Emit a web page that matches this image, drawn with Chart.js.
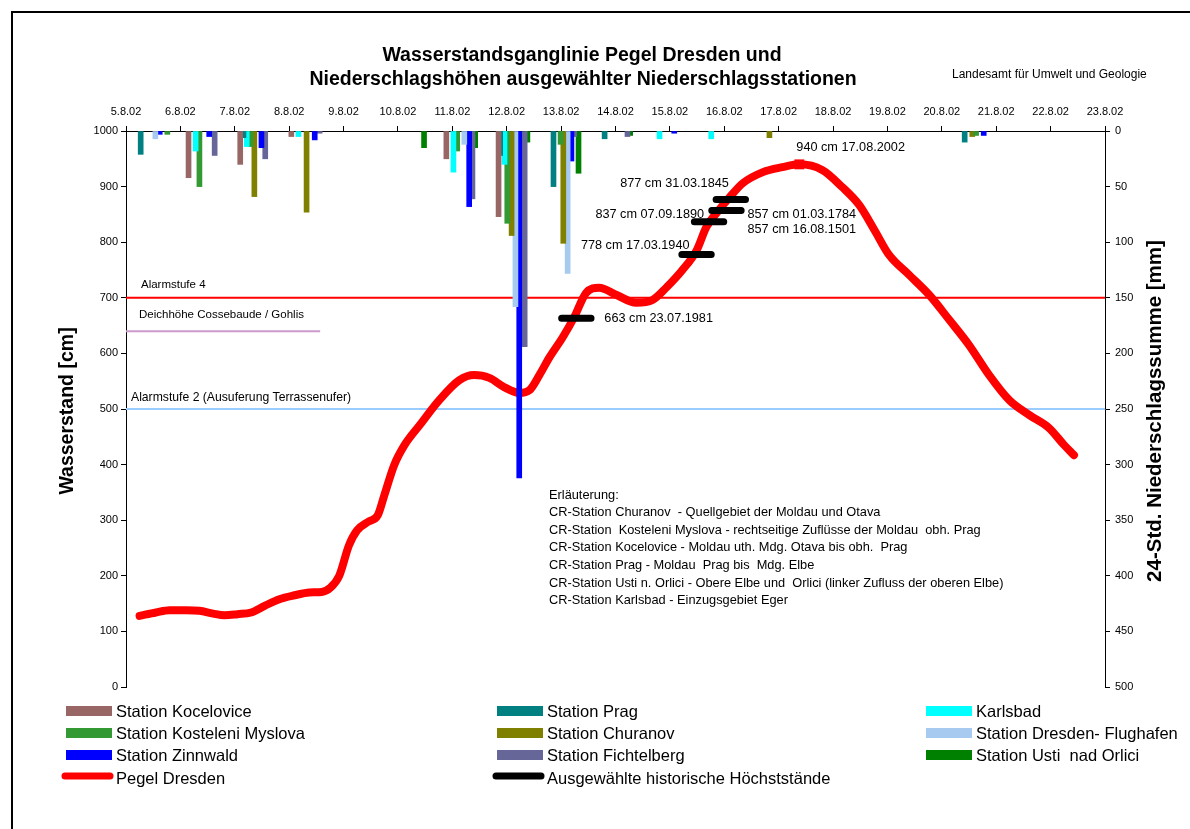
<!DOCTYPE html>
<html lang="de">
<head>
<meta charset="utf-8">
<title>Wasserstandsganglinie Pegel Dresden</title>
<script src="https://cdn.jsdelivr.net/npm/chart.js@4/dist/chart.umd.min.js"></script>
<style>
  html, body { margin: 0; padding: 0; background: #fff; }
  #wrap { position: relative; width: 1190px; height: 829px; }
</style>
</head>
<body>
<div id="wrap"><canvas id="c" width="1190" height="829"></canvas></div>
<script>
// Zeitachse: Tag 0 = 5.8.02, 0 Uhr
const dayLabels = ['5.8.02', '6.8.02', '7.8.02', '8.8.02', '9.8.02', '10.8.02', '11.8.02',
  '12.8.02', '13.8.02', '14.8.02', '15.8.02', '16.8.02', '17.8.02', '18.8.02', '19.8.02',
  '20.8.02', '21.8.02', '22.8.02', '23.8.02'];

// Pegel Dresden: Zeitpunkt (Tage) und Wasserstand [cm]
const pegelDay = [0.25, 0.55, 0.80, 1.10, 1.35, 1.60, 1.81, 2.05, 2.30, 2.55, 2.82, 3.10, 3.37,
  3.60, 3.75, 3.92, 4.10, 4.25, 4.45, 4.63, 4.75, 4.93, 5.12, 5.40, 5.76, 6.13, 6.40, 6.68,
  6.96, 7.23, 7.42, 7.60, 7.78, 8.03, 8.24, 8.46, 8.70, 9.02, 9.38, 9.68, 9.94, 10.23, 10.49,
  10.67, 10.87, 11.10, 11.34, 11.71, 12.07, 12.38, 12.80, 13.17, 13.48, 13.76, 14.03, 14.40,
  14.77, 15.14, 15.50, 15.87, 16.24, 16.61, 16.97, 17.25, 17.43];
const pegelCm = [128, 134, 138, 138, 137, 132, 129, 131, 134, 146, 158, 165, 170,
  171, 178, 200, 255, 282, 297, 309, 345, 399, 435, 471, 516, 552, 561, 556,
  539, 529, 534, 561, 592, 629, 665, 709, 718, 705, 691, 696, 719, 750, 785,
  827, 854, 881, 906, 926, 935, 940, 930, 899, 867, 822, 777, 741,
  705, 660, 615, 561, 516, 489, 466, 435, 417];

// Scheitel 2002
const peakDay = 12.38;
const peakCm = 940;
const peakDate = '17.08.2002';

// Ausgewählte historische Höchststände
const histDay = [8.28, 10.49, 10.72, 11.04, 11.04, 11.12];
const histCm = [663, 778, 837, 857, 857, 877];
const histDate = ['23.07.1981', '17.03.1940', '07.09.1890', '01.03.1784', '16.08.1501', '31.03.1845'];

// Kennmarken [cm]
const alarm4Cm = 700;
const deichCm = 640;
const alarm2Cm = 500;

// 24-Std.-Niederschlagssummen [mm] je Station
const kocelDay = [1.15, 2.10, 3.04, 5.89, 6.85];
const kocelMm = [42, 30, 5, 25, 77];
const pragDay = [0.27, 2.16, 6.88, 7.86, 8.80, 15.42];
const pragMm = [21, 6, 22, 50, 7, 10];
const karlsDay = [1.28, 2.22, 3.17, 6.02, 6.96, 9.81, 10.76];
const karlsMm = [18, 14, 5, 37, 30, 7, 7];
const kostDay = [0.76, 1.35, 2.29, 6.09, 7.01, 7.99, 15.63];
const kostMm = [3, 50, 14, 18, 83, 12, 4];
const churDay = [2.36, 3.32, 7.09, 8.04, 11.83, 15.56];
const churMm = [59, 73, 94, 101, 6, 5];
const dresDay = [0.54, 6.22, 7.16, 8.12];
const dresMm = [7, 12, 158, 128];
const zinnDay = [0.62, 1.53, 2.49, 3.47, 6.31, 7.23, 8.19, 10.08, 15.77];
const zinnMm = [3, 5, 15, 8, 68, 312, 27, 2, 4];
const fichDay = [1.63, 2.56, 3.56, 6.37, 7.33, 8.24, 9.22];
const fichMm = [22, 25, 2, 61, 194, 5, 5];
const ustiDay = [5.48, 6.42, 7.38, 8.32, 9.27];
const ustiMm = [15, 15, 10, 38, 4];

const zip = (xs, ys) => xs.map((x, i) => ({ x: x, y: ys[i] }));

const FONT = '"Liberation Sans", Arial, sans-serif';
const HALF_MARK = 0.27; // halbe Länge der historischen Marken in Tagen

// Historische Marken als unterbrochene Linie
const histData = [];
histDay.forEach((d, i) => {
  histData.push({ x: d - HALF_MARK, y: histCm[i] });
  histData.push({ x: d + HALF_MARK, y: histCm[i] });
  histData.push({ x: d + HALF_MARK, y: null });
});

const stations = [
  { label: 'Station Kocelovice', color: '#996666', day: kocelDay, mm: kocelMm },
  { label: 'Station Prag', color: '#008080', day: pragDay, mm: pragMm },
  { label: 'Karlsbad', color: '#00FFFF', day: karlsDay, mm: karlsMm },
  { label: 'Station Kosteleni Myslova', color: '#339933', day: kostDay, mm: kostMm },
  { label: 'Station Churanov', color: '#808000', day: churDay, mm: churMm },
  { label: 'Station Dresden- Flughafen', color: '#A6CAF0', day: dresDay, mm: dresMm },
  { label: 'Station Zinnwald', color: '#0000FF', day: zinnDay, mm: zinnMm },
  { label: 'Station Fichtelberg', color: '#666699', day: fichDay, mm: fichMm },
  { label: 'Station Usti  nad Orlici', color: '#008000', day: ustiDay, mm: ustiMm }
];

const barSets = stations.map(s => ({
  type: 'bar',
  label: s.label,
  data: zip(s.day, s.mm),
  xAxisID: 'x',
  yAxisID: 'y2',
  backgroundColor: s.color,
  borderWidth: 0,
  barThickness: 5,
  grouped: false,
  order: 0
}));

const refLine = (label, y, x0, x1, color) => ({
  type: 'line',
  label: label,
  data: [{ x: x0, y: y }, { x: x1, y: y }],
  xAxisID: 'x', yAxisID: 'y',
  borderColor: color, borderWidth: 2,
  pointRadius: 0, order: 4
});

const datasets = [
  ...barSets,
  refLine('Alarmstufe 4', alarm4Cm, 0, 18, '#FF0000'),
  refLine('Deichhöhe Cossebaude / Gohlis', deichCm, 0, 3.57, '#CC99CC'),
  refLine('Alarmstufe 2', alarm2Cm, 0, 18, '#99CCFF'),
  {
    type: 'line',
    label: 'Pegel Dresden',
    data: zip(pegelDay, pegelCm),
    xAxisID: 'x', yAxisID: 'y',
    borderColor: '#FF0000', borderWidth: 8,
    borderCapStyle: 'round', borderJoinStyle: 'round',
    cubicInterpolationMode: 'monotone',
    pointRadius: 0, order: 3
  },
  {
    type: 'line',
    label: 'Scheitel',
    data: [{ x: peakDay, y: peakCm }],
    xAxisID: 'x', yAxisID: 'y',
    showLine: false,
    pointStyle: 'rect', pointRadius: 7,
    backgroundColor: '#FF0000', borderColor: '#FF0000', borderWidth: 0,
    order: 2
  },
  {
    type: 'line',
    label: 'Ausgewählte historische Höchststände',
    data: histData,
    xAxisID: 'x', yAxisID: 'y',
    borderColor: '#000000', borderWidth: 7,
    borderCapStyle: 'round',
    spanGaps: false,
    pointRadius: 0, order: 1
  }
];

// Beschriftung der historischen Marken (Versatz in Pixel)
const histLabelPos = [
  { dx: 28, dy: 0, align: 'left' },
  { dx: -7, dy: -9, align: 'right' },
  { dx: -5, dy: -7, align: 'right' },
  { dx: 21, dy: 4, align: 'left' },
  { dx: 21, dy: 19, align: 'left' },
  { dx: -2, dy: -16, align: 'right' }
];

const explanation = [
  'Erläuterung:',
  'CR-Station Churanov  - Quellgebiet der Moldau und Otava',
  'CR-Station  Kosteleni Myslova - rechtseitige Zuflüsse der Moldau  obh. Prag',
  'CR-Station Kocelovice - Moldau uth. Mdg. Otava bis obh.  Prag',
  'CR-Station Prag - Moldau  Prag bis  Mdg. Elbe',
  'CR-Station Usti n. Orlici - Obere Elbe und  Orlici (linker Zufluss der oberen Elbe)',
  'CR-Station Karlsbad - Einzugsgebiet Eger'
];

const decor = {
  id: 'decor',
  afterDraw(chart) {
    const ctx = chart.ctx;
    const sx = chart.scales.x, sy = chart.scales.y;
    const area = chart.chartArea;
    ctx.save();

    // Rahmen
    ctx.strokeStyle = '#000';
    ctx.lineWidth = 2;
    ctx.beginPath();
    ctx.moveTo(12, 829); ctx.lineTo(12, 12); ctx.lineTo(1190, 12);
    ctx.stroke();

    // Titel
    ctx.fillStyle = '#000';
    ctx.textBaseline = 'middle';
    ctx.textAlign = 'center';
    ctx.font = 'bold 19.5px ' + FONT;
    ctx.fillText('Wasserstandsganglinie Pegel Dresden und', 582, 56);
    ctx.fillText('Niederschlagshöhen ausgewählter Niederschlagsstationen', 583, 80);
    ctx.font = '12px ' + FONT;
    ctx.textAlign = 'left';
    ctx.fillText('Landesamt für Umwelt und Geologie', 952, 75);

    // Achsentitel
    ctx.textAlign = 'center';
    ctx.font = 'bold 19.5px ' + FONT;
    ctx.save();
    ctx.translate(68, (area.top + area.bottom) / 2 + 2);
    ctx.rotate(-Math.PI / 2);
    ctx.fillText('Wasserstand [cm]', 0, 0);
    ctx.restore();
    ctx.font = 'bold 20.5px ' + FONT;
    ctx.save();
    ctx.translate(1155, (area.top + area.bottom) / 2 + 2);
    ctx.rotate(-Math.PI / 2);
    ctx.fillText('24-Std. Niederschlagssumme [mm]', 0, 0);
    ctx.restore();

    // Kennmarken
    ctx.textAlign = 'left';
    ctx.font = '11.5px ' + FONT;
    ctx.fillText('Alarmstufe 4', area.left + 15, sy.getPixelForValue(alarm4Cm) - 13);
    ctx.fillText('Deichhöhe Cossebaude / Gohlis', area.left + 13, sy.getPixelForValue(deichCm) - 16);
    ctx.font = '12.2px ' + FONT;
    ctx.fillText('Alarmstufe 2 (Ausuferung Terrassenufer)', area.left + 5, sy.getPixelForValue(alarm2Cm) - 11);

    // Historische Höchststände
    ctx.font = '12.7px ' + FONT;
    histDay.forEach((d, i) => {
      const p = histLabelPos[i];
      ctx.textAlign = p.align;
      ctx.fillText(histCm[i] + ' cm ' + histDate[i],
        sx.getPixelForValue(d) + p.dx, sy.getPixelForValue(histCm[i]) + p.dy);
    });
    ctx.textAlign = 'left';
    ctx.fillText(peakCm + ' cm ' + peakDate,
      sx.getPixelForValue(peakDay) - 3, sy.getPixelForValue(peakCm) - 17);

    // Erläuterung
    ctx.font = '12.8px ' + FONT;
    explanation.forEach((t, i) => ctx.fillText(t, 549, 495 + i * 17.6));

    // Legende
    ctx.font = '16.5px ' + FONT;
    const cols = [66, 497, 926];
    const rows = [711, 733, 755];
    stations.forEach((s, i) => {
      const cx = cols[i % 3], cy = rows[Math.floor(i / 3)];
      ctx.fillStyle = s.color;
      ctx.fillRect(cx, cy - 5, 46, 10);
      ctx.fillStyle = '#000';
      ctx.fillText(s.label, cx + 50, cy + 1);
    });
    const lineKey = (cx, color, text) => {
      ctx.strokeStyle = color;
      ctx.lineWidth = 7;
      ctx.lineCap = 'round';
      ctx.beginPath();
      ctx.moveTo(cx - 1, 776); ctx.lineTo(cx + 44, 776);
      ctx.stroke();
      ctx.fillStyle = '#000';
      ctx.fillText(text, cx + 50, 779);
    };
    lineKey(cols[0], '#FF0000', 'Pegel Dresden');
    lineKey(cols[1], '#000000', 'Ausgewählte historische Höchststände');

    ctx.restore();
  }
};

const axisGrid = { drawOnChartArea: false, drawTicks: true, tickLength: 5, color: '#000', lineWidth: 1, offset: false };
const axisBorder = { display: true, color: '#000', width: 1 };
const tickFont = { family: FONT, size: 11 };

new Chart(document.getElementById('c'), {
  type: 'bar',
  data: { datasets: datasets },
  plugins: [decor],
  options: {
    responsive: false,
    devicePixelRatio: 1,
    animation: false,
    events: [],
    layout: { padding: { left: 0, right: 0, top: 0, bottom: 142 } },
    plugins: { legend: { display: false }, tooltip: { enabled: false }, title: { display: false } },
    scales: {
      x: {
        type: 'linear', position: 'top', min: 0, max: 18, offset: false,
        grid: axisGrid, border: axisBorder,
        ticks: {
          stepSize: 1, autoSkip: false, maxRotation: 0, padding: 7,
          color: '#000', font: tickFont,
          callback: v => dayLabels[v] ?? ''
        },
        afterFit: s => { s.height = 131; }
      },
      y: {
        type: 'linear', position: 'left', min: 0, max: 1000,
        grid: axisGrid, border: axisBorder,
        ticks: { stepSize: 100, padding: 3, color: '#000', font: tickFont, callback: v => String(v) },
        afterFit: s => { s.width = 126; }
      },
      y2: {
        type: 'linear', position: 'right', min: 0, max: 500, reverse: true,
        grid: axisGrid, border: axisBorder,
        ticks: { stepSize: 50, padding: 5, color: '#000', font: tickFont, callback: v => String(v) },
        afterFit: s => { s.width = 85; }
      }
    }
  }
});
</script>
</body>
</html>
